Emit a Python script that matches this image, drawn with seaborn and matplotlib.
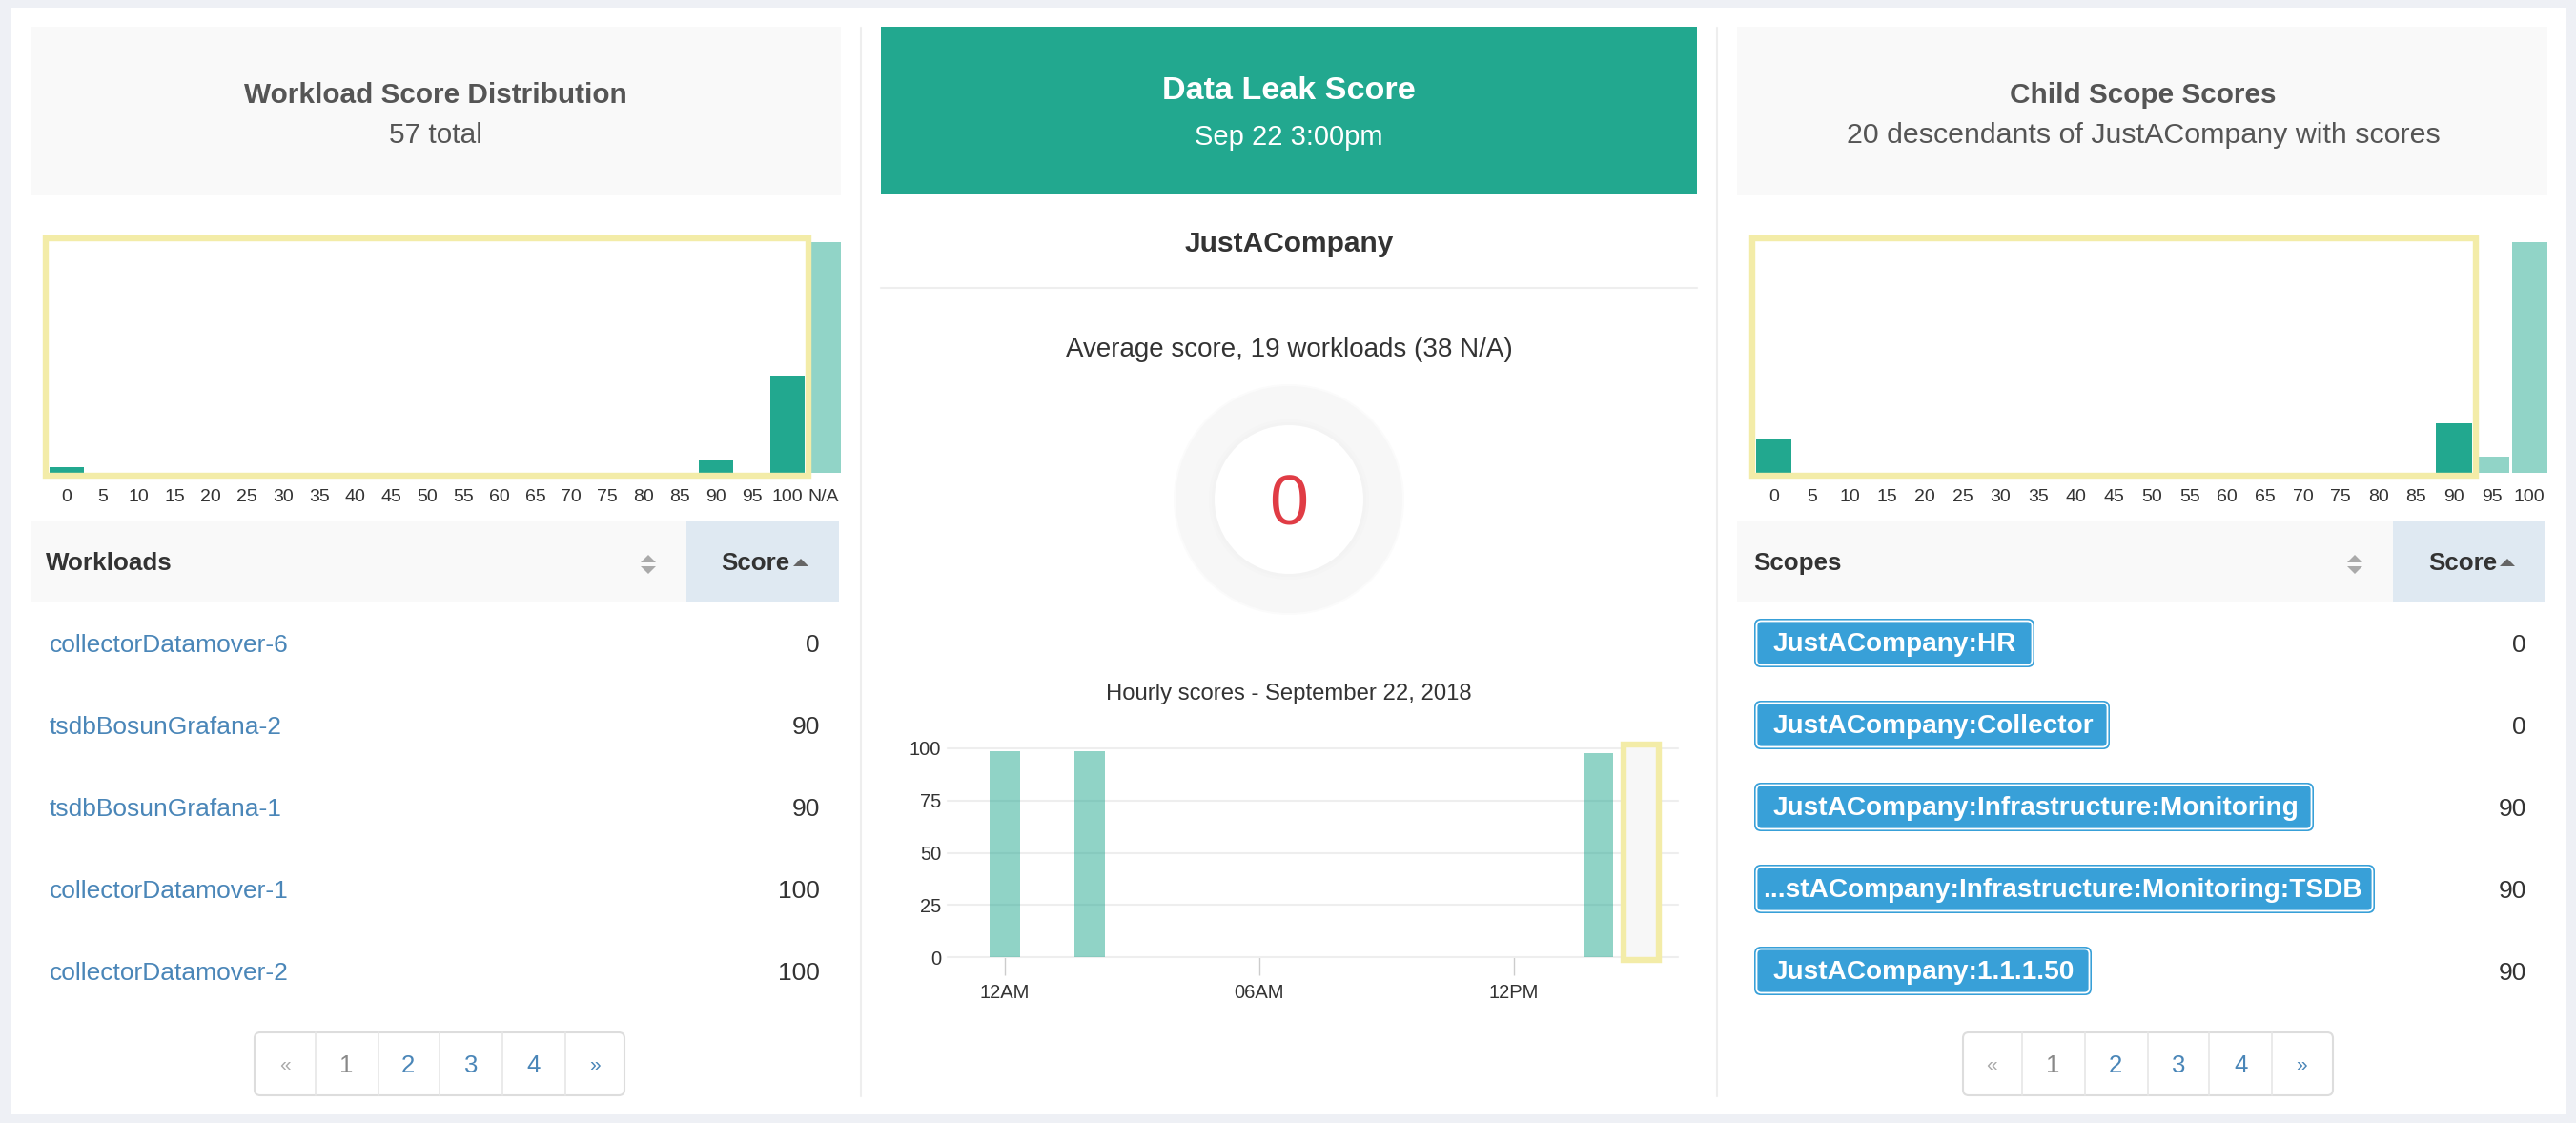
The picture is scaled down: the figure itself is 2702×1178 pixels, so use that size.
import pandas as pd
import matplotlib.pyplot as plt
import seaborn as sns
from matplotlib import rcParams
from matplotlib.patches import FancyBboxPatch, Rectangle, Circle, Polygon

# histogram bins, counts
workload_bins = [str(b) for b in range(0, 105, 5)] + ['N/A']
workload_counts = [1, 0, 0, 0, 0, 0, 0, 0, 0, 0, 0, 0, 0, 0, 0, 0, 0, 0, 2, 0, 16, 38]
workload_brush = ['in'] * 21 + ['out']

scope_bins = [str(b) for b in range(0, 105, 5)]
scope_counts = [2, 0, 0, 0, 0, 0, 0, 0, 0, 0, 0, 0, 0, 0, 0, 0, 0, 0, 3, 1, 14]
scope_brush = ['in'] * 19 + ['out'] * 2

hours = list(range(16))
hourly_scores = [98.6, None, 98.6, None, None, None, None, None, None, None, None, None, None, None, 97.7, None]
hour_ticks = [0, 6, 12]
hour_labels = ['12AM', '06AM', '12PM']
hourly_yticks = [0, 25, 50, 75, 100]

workload_names = ['collectorDatamover-6', 'tsdbBosunGrafana-2', 'tsdbBosunGrafana-1',
                  'collectorDatamover-1', 'collectorDatamover-2']
workload_scores = ['0', '90', '90', '100', '100']
scope_names = ['JustACompany:HR', 'JustACompany:Collector', 'JustACompany:Infrastructure:Monitoring',
               '...stACompany:Infrastructure:Monitoring:TSDB', 'JustACompany:1.1.1.50']
scope_scores = ['0', '0', '90', '90', '90']
page_labels = ['\u00ab', '1', '2', '3', '4', '\u00bb']

W = 2702
H = 1178
TEAL = '#22a88f'
PALE = '#91d4c7'
YELLOW = '#f3eca8'
LINK = '#4a86b8'
BADGE = '#38a0d8'


if __name__ == '__main__':
    sns.set_theme(style="ticks")
    rcParams['font.family'] = ['Liberation Sans', 'DejaVu Sans']
    rcParams['text.color'] = '#333333'

    f = plt.figure(figsize=(W / 100, H / 100), dpi=100, facecolor='#eef0f5')

    # Page underneath, in pixels of the picture
    bg = f.add_axes([0, 0, 1, 1], zorder=0)
    bg.set_xlim(0, W)
    bg.set_ylim(H, 0)
    bg.axis('off')
    bg.add_patch(Rectangle((12, 8), 2680, 1161, fc='white', ec='none'))
    bg.plot([903, 903], [29, 1150], color='#eeeeee', lw=1.5)
    bg.plot([1801, 1801], [29, 1150], color='#eeeeee', lw=1.5)

    # Side panel headers
    bg.add_patch(Rectangle((32, 28), 850, 177, fc='#f9f9f9', ec='none'))
    bg.add_patch(Rectangle((1822, 28), 850, 177, fc='#f9f9f9', ec='none'))
    bg.text(457, 100, 'Workload Score Distribution', ha='center', va='center', fontsize=21.4, fontweight='bold', color='#555555')
    bg.text(457, 142, '57 total', ha='center', va='center', fontsize=21.4, color='#555555')
    bg.text(2248, 100, 'Child Scope Scores', ha='center', va='center', fontsize=21.4, fontweight='bold', color='#555555')
    bg.text(2248, 142, '20 descendants of JustACompany with scores', ha='center', va='center', fontsize=21.9, color='#555555')

    # Middle panel
    bg.add_patch(Rectangle((924, 28), 856, 176, fc=TEAL, ec='none'))
    bg.text(1352, 95, 'Data Leak Score', ha='center', va='center', fontsize=24.6, fontweight='bold', color='white')
    bg.text(1352, 144, 'Sep 22 3:00pm', ha='center', va='center', fontsize=21, color='white')
    bg.text(1352, 256, 'JustACompany', ha='center', va='center', fontsize=21.5, fontweight='bold')
    bg.plot([924, 1780], [302, 302], color='#eeeeee', lw=1.5)
    bg.text(1352, 367, 'Average score, 19 workloads (38 N/A)', ha='center', va='center', fontsize=20)
    bg.add_patch(Circle((1352, 524), 121, fc='#fbfbfb', ec='none'))
    bg.add_patch(Circle((1352, 524), 119, fc='#f7f7f7', ec='none'))
    bg.add_patch(Circle((1352, 524), 84, fc='#f5f5f5', ec='none'))
    bg.add_patch(Circle((1352, 524), 81, fc='#f3f3f3', ec='none'))
    bg.add_patch(Circle((1352, 524), 78, fc='white', ec='none'))
    bg.text(1352, 531, '0', ha='center', va='center', fontsize=53, color='#e03c45')
    bg.text(1352, 728, 'Hourly scores - September 22, 2018', ha='center', va='center', fontsize=17.2)

    # Table headers
    for x0, x1, xs, label, xl, xi, xt, xa in [(32, 880, 720, 'Workloads', 48, 680, 756, 840),
                                              (1822, 2670, 2510, 'Scopes', 1839, 2470, 2547, 2630)]:
        bg.add_patch(Rectangle((x0, 546), x1 - x0, 85, fc='#f9f9f9', ec='none'))
        bg.add_patch(Rectangle((xs, 546), x1 - xs, 85, fc='#dfe9f2', ec='none'))
        bg.text(xl, 591, label, ha='left', va='center', fontsize=18.7, fontweight='bold')
        bg.text(xt, 591, 'Score', ha='left', va='center', fontsize=18.7, fontweight='bold')
        bg.add_patch(Polygon([(xi - 8, 590), (xi + 8, 590), (xi, 582)], fc='#aaaaaa', ec='none'))
        bg.add_patch(Polygon([(xi - 8, 594), (xi + 8, 594), (xi, 602)], fc='#aaaaaa', ec='none'))
        bg.add_patch(Polygon([(xa - 8, 594), (xa + 8, 594), (xa, 586)], fc='#666666', ec='none'))

    # Table rows
    row_y = [675, 761, 847, 933, 1019]
    for y, name, score in zip(row_y, workload_names, workload_scores):
        bg.text(52, y + 2, name, ha='left', va='center', fontsize=19, color=LINK)
        bg.text(860, y + 2, score, ha='right', va='center', fontsize=19)

    badge_right = [2134, 2213, 2427, 2491, 2194]
    for y, name, score, x1 in zip(row_y, scope_names, scope_scores, badge_right):
        bg.add_patch(FancyBboxPatch((1840, y - 26), x1 - 1840, 51, boxstyle='round,pad=0,rounding_size=7', fc=BADGE, ec='none'))
        bg.add_patch(FancyBboxPatch((1842.5, y - 23.5), x1 - 1845, 46, boxstyle='round,pad=0,rounding_size=5', fc=BADGE, ec='white', lw=1.3))
        tx = 1849 if name.startswith('...') else 1860
        bg.text(tx, y + 1, name, ha='left', va='center', fontsize=20.2, fontweight='bold', color='white')
        bg.text(2650, y + 2, score, ha='right', va='center', fontsize=19)

    # Pagers
    for x0, x1, dividers, centers in [(267, 655, [331, 397, 461, 527, 593], [299, 363, 428, 494, 560, 624]),
                                      (2059, 2447, [2121, 2187, 2253, 2317, 2383], [2089, 2153, 2219, 2285, 2351, 2414])]:
        bg.add_patch(FancyBboxPatch((x0, 1083), x1 - x0, 66, boxstyle='round,pad=0,rounding_size=6', fc='white', ec='#dddddd', lw=1.5))
        for d in dividers:
            bg.plot([d, d], [1083, 1149], color='#e6e6e6', lw=1.2)
        for c, label in zip(centers, page_labels):
            if label == '\u00ab':
                col = '#aaaaaa'
            elif label == '1':
                col = '#888888'
            else:
                col = LINK
            size = 18.5 if label.isdigit() else 15
            bg.text(c, 1118, label, ha='center', va='center', fontsize=size, color=col)

    # Workload histogram
    df1 = pd.DataFrame({'bin': workload_bins, 'count': workload_counts, 'brush': workload_brush})
    ax = f.add_axes([51 / W, 1 - 496 / H, 832 / W, 242 / H], zorder=1)
    ax.patch.set_alpha(0)
    sns.barplot(x='bin', y='count', hue='brush', data=df1, palette={'in': TEAL, 'out': PALE},
                dodge=False, width=.95, saturation=1, linewidth=0, legend=False, ax=ax)
    ax.set(xlabel="", ylabel="", yticks=[], xlim=(-.5, 21.5), ylim=(0, 38))
    ax.tick_params(axis='x', length=0, pad=12, labelsize=14, labelcolor='#333333')
    sns.despine(ax=ax, left=True, bottom=True)
    ax.add_patch(Rectangle((-.58, -.47), 21.16, 39.1, fc='none', ec=YELLOW, lw=4.6, clip_on=False, zorder=5))

    # Child scope histogram
    df2 = pd.DataFrame({'bin': scope_bins, 'count': scope_counts, 'brush': scope_brush})
    ax = f.add_axes([1841 / W, 1 - 496 / H, 832 / W, 242 / H], zorder=1)
    ax.patch.set_alpha(0)
    sns.barplot(x='bin', y='count', hue='brush', data=df2, palette={'in': TEAL, 'out': PALE},
                dodge=False, width=.94, saturation=1, linewidth=0, legend=False, ax=ax)
    ax.set(xlabel="", ylabel="", yticks=[], xlim=(-.5, 20.5), ylim=(0, 14))
    ax.tick_params(axis='x', length=0, pad=12, labelsize=14, labelcolor='#333333')
    sns.despine(ax=ax, left=True, bottom=True)
    ax.add_patch(Rectangle((-.57, -.17), 19.15, 14.4, fc='none', ec=YELLOW, lw=4.6, clip_on=False, zorder=5))

    # Hourly bars
    df3 = pd.DataFrame({'hour': hours, 'score': hourly_scores})
    ax = f.add_axes([994 / W, 1 - 1004 / H, 766 / W, 219 / H], zorder=1)
    ax.patch.set_alpha(0)
    ax.yaxis.grid(True, color='#eeeeee', lw=1.5)
    ax.set_axisbelow(True)
    sns.barplot(x='hour', y='score', data=df3, color=TEAL, alpha=.5, width=.7, saturation=1, linewidth=0, ax=ax)
    ax.set(xlabel="", ylabel="", xlim=(-1.35, 15.87), ylim=(0, 100))
    ax.set_xticks(hour_ticks)
    ax.set_xticklabels(hour_labels)
    ax.set_yticks(hourly_yticks)
    ax.tick_params(axis='x', length=13.5, width=1, color='#cccccc', pad=7, labelsize=14.5, labelcolor='#333333')
    ax.tick_params(axis='y', length=0, pad=5, labelsize=14.5, labelcolor='#333333')
    for line in ax.get_ygridlines():
        line.set_clip_on(False)
    sns.despine(ax=ax, left=True, bottom=True)
    ax.add_patch(Rectangle((14.58, -1.5), .84, 103.5, fc='#f7f7f7', ec=YELLOW, lw=4.6, clip_on=False, zorder=5))

    plt.savefig('out.png', dpi=100)
